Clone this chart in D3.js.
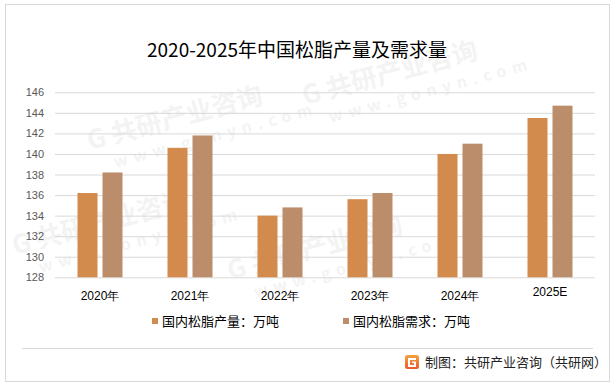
<!DOCTYPE html>
<html>
<head>
<meta charset="utf-8">
<script src="https://cdn.jsdelivr.net/npm/d3@7"></script>
<style>
  body { margin: 0; background: #fff; }
  svg { display: block; font-family: "Noto Sans CJK SC", "Noto Sans", sans-serif; }
  .grid line { stroke: #d9d9d9; }
  .grid text { fill: #595959; font-size: 11px; }
  .xaxis text { fill: #000; font-size: 12px; }
  .wm { fill: #000; opacity: 0.045; font-weight: bold; }
</style>
</head>
<body>
<div id="chart"></div>
<script>
// chart data
var years = ["2020年", "2021年", "2022年", "2023年", "2024年", "2025E"];
var production = [136.2, 140.6, 134.0, 135.6, 140.0, 143.5];
var demand = [138.2, 141.8, 134.8, 136.2, 141.0, 144.7];
var yTicks = [128, 130, 132, 134, 136, 138, 140, 142, 144, 146];
var seriesNames = ["国内松脂产量：万吨", "国内松脂需求：万吨"];
var colors = ["#d38b4d", "#bb8d6a"];

var svgWidth = 616;
var svgHeight = 386;

var margin = { top: 92.3, right: 21, bottom: 108.7, left: 55 };
var width = svgWidth - margin.left - margin.right;
var height = svgHeight - margin.top - margin.bottom;

var svg = d3.select("#chart")
  .append("svg")
  .attr("width", svgWidth)
  .attr("height", svgHeight);

// outer frame
svg.append("rect")
  .attr("x", 5.5).attr("y", 4.5)
  .attr("width", 604).attr("height", 377)
  .attr("fill", "#fff")
  .attr("stroke", "#d9d9d9");

// watermarks (kept inside the frame)
var wmGroup = svg.append("g");
var wmSpots = [[90, 150], [305, 105], [15, 255], [230, 280]];
wmSpots.forEach(function(p) {
  var g = wmGroup.append("g")
    .attr("transform", `translate(${p[0]}, ${p[1]}) rotate(-15)`);
  g.append("text").attr("class", "wm").attr("font-size", 26).text("G 共研产业咨询");
  g.append("text").attr("class", "wm").attr("x", 20).attr("y", 24)
    .attr("font-size", 16).attr("font-weight", "normal")
    .attr("letter-spacing", 6).text("www.gonyn.com");
});

// title
svg.append("text")
  .attr("x", 297).attr("y", 57)
  .attr("text-anchor", "middle")
  .attr("font-size", 19)
  .attr("fill", "#000")
  .text("2020-2025年中国松脂产量及需求量");

var chartGroup = svg.append("g")
  .attr("transform", `translate(${margin.left}, ${margin.top})`);

var xScale = d3.scaleBand()
  .domain(years)
  .range([0, width]);

var xSub = d3.scaleBand()
  .domain([0, 1])
  .range([xScale.bandwidth() / 4, xScale.bandwidth() * 3 / 4])
  .paddingInner(0.2);

var yScale = d3.scaleLinear()
  .domain([128, 146])
  .range([height, 0]);

// gridlines + y labels
var leftAxis = d3.axisLeft(yScale)
  .tickValues(yTicks)
  .tickSize(-width)
  .tickPadding(11);
chartGroup.append("g")
  .attr("class", "grid")
  .call(leftAxis)
  .call(g => g.select(".domain").remove());

// bars
var table = years.map(function(y, i) {
  return { year: y, values: [production[i], demand[i]] };
});

var groups = chartGroup.selectAll(".yearGroup")
  .data(table)
  .enter()
  .append("g")
  .attr("transform", d => `translate(${xScale(d.year)}, 0)`);

groups.selectAll("rect")
  .data(d => d.values.map((v, k) => ({ k: k, v: v })))
  .enter()
  .append("rect")
  .attr("x", d => xSub(d.k))
  .attr("width", xSub.bandwidth())
  .attr("y", d => yScale(d.v))
  .attr("height", d => height - yScale(d.v))
  .attr("fill", d => colors[d.k]);

// x labels
var bottomAxis = d3.axisBottom(xScale).tickSize(0).tickPadding(14);
chartGroup.append("g")
  .attr("class", "xaxis")
  .attr("transform", `translate(0, ${height})`)
  .call(bottomAxis)
  .call(g => g.select(".domain").remove())
  .selectAll("text")
  .attr("dy", d => d === "2025E" ? "0.4em" : "0.71em");

// legend
var legendX = [152, 343];
var legend = svg.append("g");
seriesNames.forEach(function(name, i) {
  legend.append("rect")
    .attr("x", legendX[i]).attr("y", 318)
    .attr("width", 6).attr("height", 6)
    .attr("fill", colors[i]);
  legend.append("text")
    .attr("x", legendX[i] + 10).attr("y", 326)
    .attr("font-size", 13)
    .attr("fill", "#000")
    .text(name);
});

// footer
svg.append("line")
  .attr("x1", 22).attr("x2", 593)
  .attr("y1", 348.5).attr("y2", 348.5)
  .attr("stroke", "#d9d9d9");

var defs = svg.append("defs");
var grad = defs.append("linearGradient").attr("id", "logoGrad")
  .attr("x1", 0).attr("y1", 0).attr("x2", 0).attr("y2", 1);
grad.append("stop").attr("offset", "0%").attr("stop-color", "#f5a23c");
grad.append("stop").attr("offset", "100%").attr("stop-color", "#ec5b2b");

var logo = svg.append("g").attr("transform", "translate(405, 355)");
logo.append("rect").attr("width", 14).attr("height", 14).attr("rx", 2.5)
  .attr("fill", "url(#logoGrad)");
logo.append("path")
  .attr("d", "M3,3 H11 V5 H5 V10 H9 V8 H7 V6.5 H11 V12 H3 Z")
  .attr("fill", "#fff");

svg.append("text")
  .attr("x", 425).attr("y", 367)
  .attr("font-size", 13)
  .attr("fill", "#222")
  .text("制图：共研产业咨询（共研网）");
</script>
</body>
</html>
